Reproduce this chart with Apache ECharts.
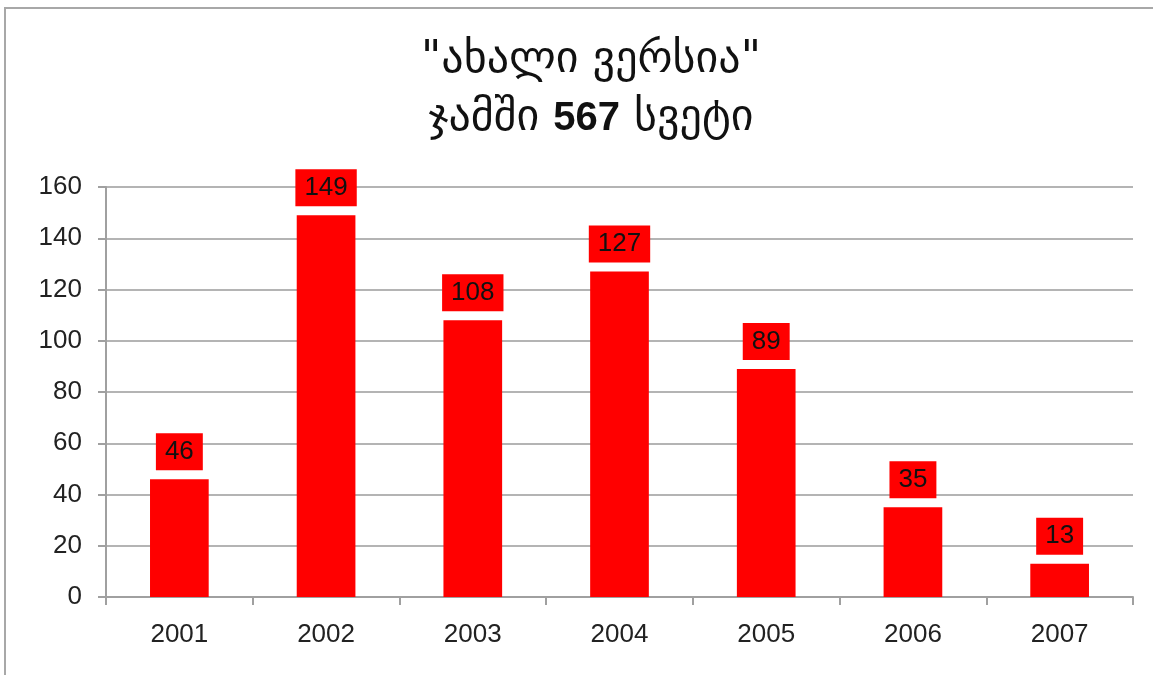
<!DOCTYPE html>
<html>
<head>
<meta charset="utf-8">
<script src="https://cdn.jsdelivr.net/npm/echarts@6/dist/echarts.min.js"></script>
<style>
html,body{margin:0;padding:0;background:#fff;}
#chart{width:1153px;height:675px;}
</style>
</head>
<body>
<div id="chart"></div>
<script>
var titleLine1 = '"ახალი ვერსია"';
var titleLine2a = 'ჯამში ';
var titleTotal = '567';
var titleLine2b = ' სვეტი';
var categories = ['2001', '2002', '2003', '2004', '2005', '2006', '2007'];
var values = [46, 149, 108, 127, 89, 35, 13];
var yMin = 0, yMax = 160, yInterval = 20;

var chart = echarts.init(document.getElementById('chart'));
var geo = '"DejaVu Sans", "Liberation Sans", sans-serif';
var num = '"Liberation Sans", Arial, sans-serif';
chart.setOption({
  backgroundColor: '#ffffff',
  animation: false,
  graphic: [{
    type: 'rect',
    shape: {x: 5, y: 8, width: 1300, height: 800},
    style: {fill: 'none', stroke: '#a8a8a8', lineWidth: 2},
    silent: true
  }],
  title: {
    left: 586,
    textAlign: 'center',
    top: 27,
    text: '{g|' + titleLine1 + '}\n{g|' + titleLine2a + '}{b|' + titleTotal + '}{g|' + titleLine2b + '}',
    textStyle: {
      fontWeight: 'normal',
      rich: {
        g: {fontFamily: geo, fontSize: 44, fontWeight: 'normal', color: '#111', lineHeight: 58},
        b: {fontFamily: num, fontSize: 40, fontWeight: 'bold', color: '#111', lineHeight: 58}
      }
    }
  },
  grid: {left: 106, right: 20, top: 187, bottom: 78, containLabel: false},
  xAxis: {
    type: 'category',
    data: categories,
    axisLine: {lineStyle: {color: '#a0a0a0', width: 2}},
    axisTick: {show: true, length: 8, lineStyle: {color: '#a0a0a0', width: 2}},
    axisLabel: {fontFamily: num, fontSize: 26, color: '#222', margin: 25}
  },
  yAxis: {
    type: 'value',
    min: yMin, max: yMax, interval: yInterval,
    axisLine: {show: true, lineStyle: {color: '#a0a0a0', width: 2}},
    axisTick: {show: true, length: 8, lineStyle: {color: '#a0a0a0', width: 2}},
    axisLabel: {fontFamily: num, fontSize: 26, color: '#222', margin: 24},
    splitLine: {lineStyle: {color: '#b4b4b4', width: 2}}
  },
  series: [{
    type: 'bar',
    data: values,
    barWidth: '40%',
    itemStyle: {color: '#ff0000'},
    label: {
      show: true,
      position: 'top',
      distance: 9,
      fontFamily: num,
      fontSize: 26,
      color: '#111',
      backgroundColor: '#ff0000',
      padding: [6, 9],
      lineHeight: 25
    }
  }]
});
</script>
</body>
</html>
